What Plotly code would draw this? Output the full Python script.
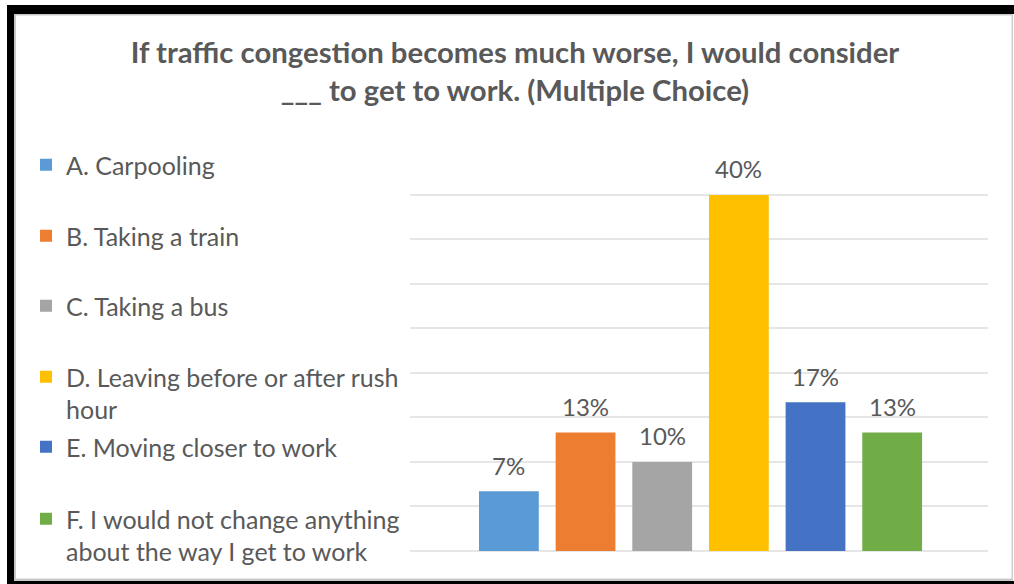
import plotly.graph_objects as go

categories = [
    "A. Carpooling",
    "B. Taking a train",
    "C. Taking a bus",
    "D. Leaving before or after rush<br>hour",
    "E. Moving closer to work",
    "F. I would not change anything<br>about the way I get to work",
]
values = [6.7, 13.3, 10.0, 40.0, 16.7, 13.3]
labels = ["7%", "13%", "10%", "40%", "17%", "13%"]
colors = ["#5B9BD5", "#ED7D31", "#A5A5A5", "#FFC000", "#4472C4", "#70AD47"]
title_text = "If traffic congestion becomes much worse, I would consider<br>___ to get to work. (Multiple Choice)"

W, H = 1014, 584
L, R, T, B = 410, 988, 150, 551  # plot area in px

def px(x):
    return (x - L) / (R - L)

def py(y):
    return (B - y) / (B - T)

def cx(x):
    return x / W

def cy(y):
    return 1 - y / H

TEXT = "#595959"
FONT = "Lato"

fig = go.Figure()
legend_tops = [142, 213, 283, 354, 424, 496]
layout_legends = {}
for i, (cat, v, c) in enumerate(zip(categories, values, colors)):
    key = "legend" if i == 0 else f"legend{i+1}"
    fig.add_trace(go.Bar(
        x=[i], y=[v], name=cat, marker=dict(color=c, line=dict(width=0)),
        width=0.78, legend=key, showlegend=True,
    ))
    layout_legends[key] = dict(
        x=cx(26), y=cy(legend_tops[i]), xanchor="left", yanchor="top",
        xref="container", yref="container",
        font=dict(family=FONT, size=25, color=TEXT),
        bgcolor="rgba(0,0,0,0)", valign="top", itemclick=False, itemdoubleclick=False,
    )

for i, (v, lab) in enumerate(zip(values, labels)):
    fig.add_annotation(x=i, y=v, text=lab, showarrow=False, xref="x", yref="y",
                       yanchor="middle", yshift=26,
                       font=dict(family=FONT, size=24, color=TEXT))

shapes = []
def rect(x0, y0, x1, y1, color):
    shapes.append(dict(type="rect", xref="paper", yref="paper",
                       x0=px(x0), x1=px(x1), y0=py(y0), y1=py(y1),
                       fillcolor=color, line=dict(width=0), layer="above"))

rect(14, 14, 16, 581, "#c8c8c8")
rect(14, 14, 1013, 15.5, "#c8c8c8")
rect(1011.5, 14, 1013, 581, "#d0d0d0")
rect(14, 578.5, 1013, 581, "#c8c8c8")
rect(7, 5, 14, 584, "#000000")
rect(7, 5, 1014, 14, "#000000")
rect(7, 581, 1014, 584, "#000000")

fig.update_layout(
    width=W, height=H,
    margin=dict(l=L, r=W - R, t=T, b=H - B, autoexpand=False),
    paper_bgcolor="white", plot_bgcolor="white",
    title=dict(text=title_text, x=515 / W, xanchor="center", xref="container",
               y=1 - 63 / H, yanchor="middle", yref="container",
               font=dict(family=FONT, size=29.3, color=TEXT, weight="bold")),
    xaxis=dict(range=[-1.29, 6.25], showticklabels=False, showgrid=False,
               zeroline=False, showline=False, ticks=""),
    yaxis=dict(range=[0, 45.05], dtick=5, tick0=0, showticklabels=False, showgrid=True,
               gridcolor="#e6e6e6", gridwidth=1.5, zeroline=True, zerolinecolor="#e6e6e6",
               zerolinewidth=1.5, showline=False, ticks=""),
    shapes=shapes,
    showlegend=True,
    bargap=0.22,
    **layout_legends,
)

fig.write_html("out.html", config={"displayModeBar": False},
               post_script="document.body.style.margin='0px';document.body.style.overflow='hidden';")
